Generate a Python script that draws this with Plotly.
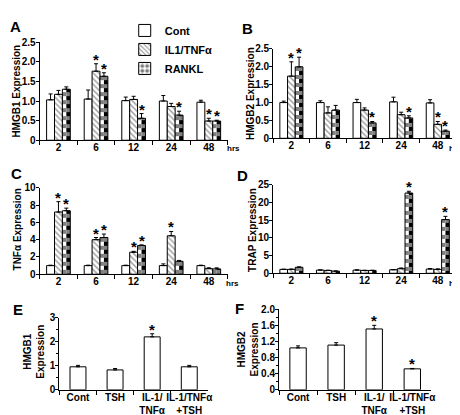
import plotly.graph_objects as go

# ---------------- data ----------------
times = ["2", "6", "12", "24", "48"]
series = ["Cont", "IL1/TNFα", "RANKL"]

A_cont = [1.03, 1.05, 1.01, 1.00, 0.97]
A_cont_err = [0.15, 0.23, 0.09, 0.14, 0.05]
A_il = [1.17, 1.76, 1.04, 0.86, 0.49]
A_il_err = [0.10, 0.19, 0.08, 0.08, 0.07]
A_rk = [1.30, 1.63, 0.56, 0.64, 0.49]
A_rk_err = [0.06, 0.09, 0.12, 0.10, 0.02]
A_il_sig = [0, 1, 0, 0, 1]
A_rk_sig = [0, 1, 1, 1, 1]

B_cont = [1.00, 1.00, 1.00, 1.02, 0.99]
B_cont_err = [0.04, 0.05, 0.09, 0.13, 0.09]
B_il = [1.74, 0.71, 0.79, 0.66, 0.39]
B_il_err = [0.40, 0.17, 0.06, 0.07, 0.08]
B_rk = [2.00, 0.79, 0.43, 0.57, 0.20]
B_rk_err = [0.27, 0.13, 0.04, 0.06, 0.03]
B_il_sig = [1, 0, 0, 0, 1]
B_rk_sig = [1, 0, 1, 1, 1]

C_cont = [1.0, 1.0, 1.0, 1.0, 1.0]
C_cont_err = [0.05, 0.05, 0.05, 0.2, 0.05]
C_il = [7.2, 4.0, 2.55, 4.45, 0.65]
C_il_err = [1.2, 0.25, 0.1, 0.5, 0.1]
C_rk = [7.35, 4.25, 3.33, 1.5, 0.62]
C_rk_err = [0.3, 0.4, 0.07, 0.1, 0.12]
C_il_sig = [1, 1, 1, 1, 0]
C_rk_sig = [1, 1, 1, 0, 0]

D_cont = [1.1, 0.9, 0.9, 1.0, 1.2]
D_cont_err = [0.05, 0.05, 0.05, 0.05, 0.15]
D_il = [1.1, 0.8, 0.8, 1.3, 1.1]
D_il_err = [0.1, 0.05, 0.05, 0.2, 0.15]
D_rk = [1.7, 0.6, 0.8, 22.7, 15.2]
D_rk_err = [0.1, 0.05, 0.05, 0.5, 0.9]
D_il_sig = [0, 0, 0, 0, 0]
D_rk_sig = [0, 0, 0, 1, 1]

treat = ["Cont", "TSH", "IL-1/<br>TNFα", "IL-1/TNFα<br>+TSH"]
E_vals = [0.96, 0.83, 2.21, 0.96]
E_err = [0.06, 0.06, 0.13, 0.06]
E_sig = [0, 0, 1, 0]
F_vals = [1.04, 1.11, 1.51, 0.52]
F_err = [0.05, 0.06, 0.09, 0.01]
F_sig = [0, 0, 1, 1]

A_ticks = [0, 0.5, 1.0, 1.5, 2.0, 2.5]
A_ticktext = ["0", "0.5", "1.0", "1.5", "2.0", "2.5"]
C_ticks = [0, 2, 4, 6, 8, 10]
D_ticks = [0, 5, 10, 15, 20, 25]
E_ticks = [0, 1, 2, 3]
F_ticks = [0, 0.4, 0.8, 1.2, 1.6, 2.0]
F_ticktext = ["0", "0.4", "0.8", "1.2", "1.6", "2.0"]

# ---------------- styles ----------------
FONT = "Liberation Sans, Arial, sans-serif"
W, H = 460, 415
BW = 0.21  # bar width in category units

OUTLINE = dict(color="black", width=1)
cont_marker = dict(color="white", line=OUTLINE)
il_marker = dict(color="white", line=OUTLINE,
                 pattern=dict(shape="\\", fgcolor="#333", bgcolor="white", size=4, solidity=0.35))
# checkerboard built from two half-width columns with opposite stripe colours
chk_left = dict(color="white", line=dict(width=0),
                pattern=dict(shape="-", fgcolor="black", bgcolor="white", size=8, solidity=0.5))
chk_right = dict(color="black", line=dict(width=0),
                 pattern=dict(shape="-", fgcolor="white", bgcolor="black", size=8, solidity=0.5))
rk_outline = dict(color="rgba(0,0,0,0)", line=OUTLINE)
legend_rk = dict(color="white", line=OUTLINE,
                 pattern=dict(shape=".", fgcolor="black", bgcolor="white", size=6, solidity=0.5))

fig = go.Figure()
annotations = []


def err(a, n):
    return dict(type="data", array=a, arrayminus=[0] * n, symmetric=False,
                color="black", thickness=1, width=2)


def star(xref, yref, x, y):
    annotations.append(dict(xref=xref, yref=yref, x=x, y=y, text="*", showarrow=False,
                            yanchor="bottom", xanchor="center", yshift=-6,
                            font=dict(family=FONT, size=15, color="black", weight="bold")))


panels = [
    ("x", "y", [A_cont, A_il, A_rk], [A_cont_err, A_il_err, A_rk_err], [A_il_sig, A_rk_sig], True),
    ("x2", "y2", [B_cont, B_il, B_rk], [B_cont_err, B_il_err, B_rk_err], [B_il_sig, B_rk_sig], False),
    ("x3", "y3", [C_cont, C_il, C_rk], [C_cont_err, C_il_err, C_rk_err], [C_il_sig, C_rk_sig], False),
    ("x4", "y4", [D_cont, D_il, D_rk], [D_cont_err, D_il_err, D_rk_err], [D_il_sig, D_rk_sig], False),
]

n = len(times)
for xa, ya, vals, errs, sigs, show in panels:
    common = dict(x=times, xaxis=xa, yaxis=ya)
    fig.add_trace(go.Bar(y=vals[0], name=series[0], marker=cont_marker, showlegend=show,
                         offset=-1.5 * BW, width=BW, error_y=err(errs[0], n), **common))
    fig.add_trace(go.Bar(y=vals[1], name=series[1], marker=il_marker, showlegend=show,
                         offset=-0.5 * BW, width=BW, error_y=err(errs[1], n), **common))
    fig.add_trace(go.Bar(y=vals[2], name=series[2], marker=chk_left, showlegend=False,
                         offset=0.5 * BW, width=BW / 2, **common))
    fig.add_trace(go.Bar(y=vals[2], name=series[2], marker=chk_right, showlegend=False,
                         offset=BW, width=BW / 2, **common))
    fig.add_trace(go.Bar(y=vals[2], name=series[2], marker=rk_outline, showlegend=False,
                         offset=0.5 * BW, width=BW, error_y=err(errs[2], n), **common))
    if show:
        fig.add_trace(go.Bar(y=[None] * n, name=series[2], marker=legend_rk, showlegend=True,
                             offset=0.5 * BW, width=BW, **common))
    for j, sg in zip([1, 2], sigs):
        for i, s in enumerate(sg):
            if s:
                star(xa, ya, i + (j - 1) * BW, vals[j][i] + errs[j][i])

for xa, ya, vals, errs, sig in [("x5", "y5", E_vals, E_err, E_sig), ("x6", "y6", F_vals, F_err, F_sig)]:
    fig.add_trace(go.Bar(x=treat, y=vals, xaxis=xa, yaxis=ya, width=0.43, showlegend=False,
                         marker=cont_marker, error_y=err(errs, len(treat))))
    for i, s in enumerate(sig):
        if s:
            star(xa, ya, i, vals[i] + errs[i])


def px_x(p):
    return p / W


def px_y(p):
    return 1 - p / H


tickfont = dict(family=FONT, size=10, color="black", weight="bold")


def xaxis(dom, anchor):
    return dict(domain=[px_x(dom[0]), px_x(dom[1])], anchor=anchor, type="category",
                showline=True, linecolor="black", linewidth=1, ticks="outside",
                tickson="boundaries", ticklen=4, tickcolor="black", tickfont=tickfont,
                tickangle=0, ticklabelstandoff=-2,
                showgrid=False, zeroline=False, fixedrange=True)


def yaxis(dom, anchor, rng, tv, tt, minor=None):
    d = dict(domain=[px_y(dom[0]), px_y(dom[1])], anchor=anchor, range=rng,
             showline=True, linecolor="black", linewidth=1, ticks="outside", ticklen=3,
             tickcolor="black", tickfont=tickfont, tickvals=tv, ticktext=tt,
             ticklabelstandoff=-2,
             showgrid=False, zeroline=False, fixedrange=True)
    if minor:
        d["minor"] = dict(dtick=minor, tick0=0, ticks="outside", ticklen=2, tickcolor="black",
                          showgrid=False)
    return d


layout = dict(
    width=W, height=H, margin=dict(l=0, r=0, t=0, b=0),
    paper_bgcolor="white", plot_bgcolor="white",
    barmode="overlay",
    font=dict(family=FONT, color="black"),
    showlegend=True,
    legend=dict(x=px_x(118), y=px_y(2), xanchor="left", yanchor="top",
                font=dict(family=FONT, size=11, color="black", weight="bold"),
                bgcolor="rgba(0,0,0,0)", tracegroupgap=0, itemwidth=30),
    xaxis=xaxis([32, 222], "y"),
    yaxis=yaxis([130, 29], "x", [0, 2.5], A_ticks, A_ticktext),
    xaxis2=xaxis([268, 453], "y2"),
    yaxis2=yaxis([128, 36], "x2", [0, 2.5], A_ticks, A_ticktext),
    xaxis3=xaxis([32, 222], "y3"),
    yaxis3=yaxis([268, 179], "x3", [0, 10], C_ticks, [str(v) for v in C_ticks]),
    xaxis4=xaxis([268, 453], "y4"),
    yaxis4=yaxis([267, 176], "x4", [0, 25], D_ticks, [str(v) for v in D_ticks]),
    xaxis5=xaxis([52, 202], "y5"),
    yaxis5=yaxis([387, 313], "x5", [0, 3], E_ticks, [str(v) for v in E_ticks], minor=0.5),
    xaxis6=xaxis([274, 428], "y6"),
    yaxis6=yaxis([387, 304], "x6", [0, 2.0], F_ticks, F_ticktext, minor=0.2),
)


def ptext(x, y, text, size, angle=0, anchor="center", yanchor="middle"):
    annotations.append(dict(xref="paper", yref="paper", x=px_x(x), y=px_y(y), text=text,
                            showarrow=False, xanchor=anchor, yanchor=yanchor, textangle=angle,
                            font=dict(family=FONT, size=size, color="black", weight="bold")))


# panel letters
for lt, x, y in [("A", 8, 13), ("B", 242, 15), ("C", 9, 164), ("D", 237, 166), ("E", 10, 304), ("F", 234, 303)]:
    ptext(x, y, lt, 15)

# y titles
ptext(9, 79, "HMGB1 Expression", 10, -90)
ptext(245, 82, "HMGB2 Expression", 10, -90)
ptext(10, 222, "TNFα Expression", 10, -90)
ptext(247, 222, "TRAP Expression", 10, -90)
ptext(26, 348, "HMGB1<br>Expression", 10, -90)
ptext(243, 345, "HMGB2<br>Expression", 10, -90)

# hrs
ptext(219, 139, "hrs", 8, anchor="left")
ptext(444, 139, "hrs", 8, anchor="left")
ptext(218, 278, "hrs", 8, anchor="left")
ptext(444, 278, "hrs", 8, anchor="left")

layout["annotations"] = annotations
fig.update_layout(**layout)
fig.write_html("out.html")
